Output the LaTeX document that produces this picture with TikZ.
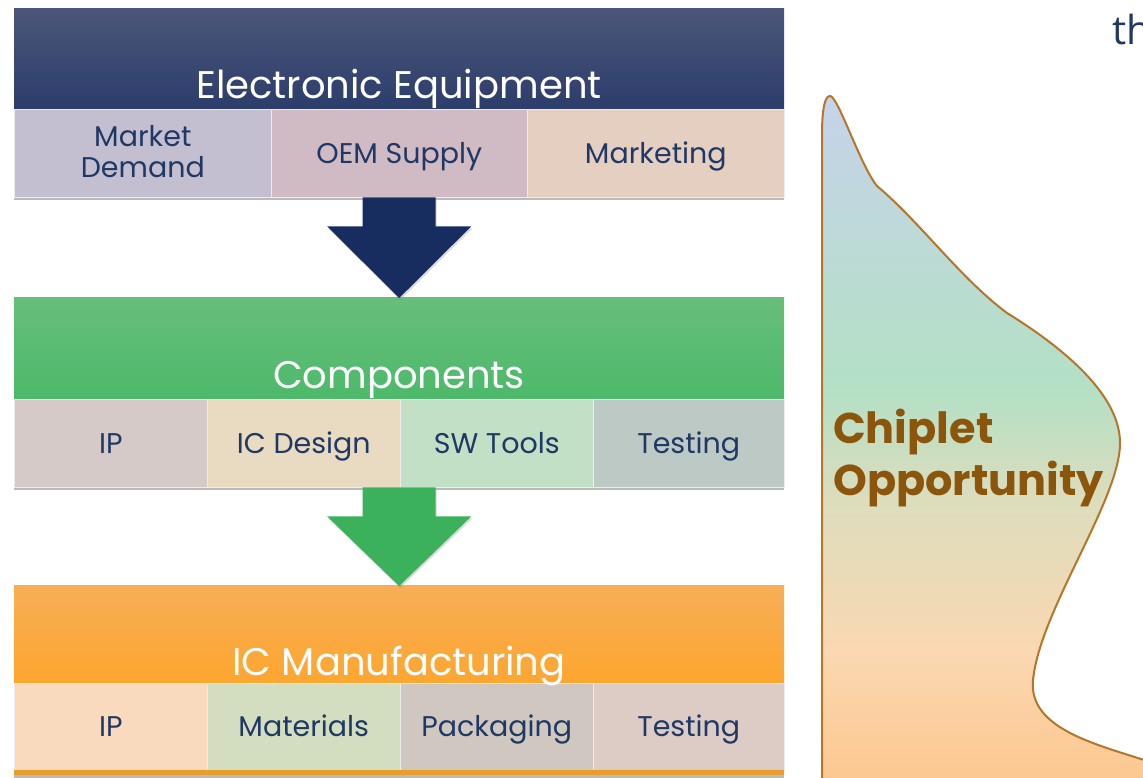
\documentclass[tikz,border=0pt]{standalone}
\usepackage{fontspec}
\setmainfont{Poppins}
\newfontfamily\thfont{Open Sans}
\usetikzlibrary{calc,shadows}
\definecolor{navytxt}{HTML}{1F3864}
\definecolor{hAtop}{HTML}{4B5679}
\definecolor{hAbot}{HTML}{2C3D6B}
\definecolor{hBtop}{HTML}{67BE7B}
\definecolor{hBbot}{HTML}{4DB96A}
\definecolor{hCtop}{HTML}{F7AE57}
\definecolor{hCbot}{HTML}{FDA62F}
\definecolor{arrA}{HTML}{172C5F}
\definecolor{arrB}{HTML}{3CB15C}
\definecolor{mA}{HTML}{C4BFD0}
\definecolor{mB}{HTML}{D0BBC4}
\definecolor{mC}{HTML}{E5CFC1}
\definecolor{cA}{HTML}{D6CAC8}
\definecolor{cB}{HTML}{E9DBC1}
\definecolor{cC}{HTML}{C1E0C6}
\definecolor{cD}{HTML}{BCC9C4}
\definecolor{iA}{HTML}{FADABE}
\definecolor{iB}{HTML}{D3DEC1}
\definecolor{iC}{HTML}{D0C8C0}
\definecolor{iD}{HTML}{DDCBC6}
\definecolor{obar}{HTML}{E99D2A}
\definecolor{chipline}{HTML}{B5752A}
\definecolor{chiptxt}{HTML}{8B560C}
\definecolor{gTop}{HTML}{C6D3EA}
\definecolor{gGreen}{HTML}{B3E0C5}
\definecolor{gTan}{HTML}{DCDDBD}
\definecolor{gPeach}{HTML}{FAD8B2}
\definecolor{gBot}{HTML}{FDC68D}
\pgfdeclareverticalshading{chipgrad}{100bp}{color(0bp)=(gBot); color(25bp)=(gBot); color(35bp)=(gPeach); color(46bp)=(gTan); color(54bp)=(gGreen); color(75bp)=(gTop); color(100bp)=(gTop)}
\tikzset{
  frame/.style={anchor=north west, inner sep=0pt, fill=white, minimum width=770pt,
    drop shadow={shadow xshift=0pt, shadow yshift=-3pt, opacity=0.45, fill=black!60}},
  hdr/.style={anchor=north west, inner sep=0pt, minimum width=770pt, draw=none},
  cell/.style={anchor=north west, inner sep=0pt, draw=white!85!gray, line width=0.6pt,
    text=navytxt, font=\fontsize{28.5}{31}\selectfont, align=center,
    text height=20pt, text depth=0pt},
  title/.style={anchor=base, inner sep=0pt, text=white, font=\fontsize{38.5}{40}\selectfont}
}
\begin{document}
\begin{tikzpicture}[x=1pt,y=-1pt]
\useasboundingbox (0,0) rectangle (1143,778);
% ---- box 1
\node[frame, minimum height=189pt] (f1) at (14,8) {};
\node[hdr, minimum height=101pt, top color=hAtop, bottom color=hAbot] (h1) at (14,8) {};
\node[cell, fill=mA, minimum width=257pt, minimum height=88pt] (m1) at (14,109) {};
\node[cell, fill=mB, minimum width=256pt, minimum height=88pt] (m2) at (271,109) {};
\node[cell, fill=mC, minimum width=257pt, minimum height=88pt] (m3) at (527,109) {};
\node[title] (t1) at (399,99) {Electronic Equipment};
\node[text=navytxt, font=\fontsize{28.5}{31}\selectfont, align=center, inner sep=0pt] (l1) at ($(m1.center)+(0,-2)$) {Market\\Demand};
\node[cell, draw=none, anchor=center] (l2) at (m2.center) {OEM Supply};
\node[cell, draw=none, anchor=center] (l3) at (m3.center) {Marketing};
% ---- box 2
\node[frame, minimum height=190pt] (f2) at (14,297) {};
\node[hdr, minimum height=102pt, top color=hBtop, bottom color=hBbot] (h2) at (14,297) {};
\node[cell, fill=cA, minimum width=193pt, minimum height=88pt] (c1) at (14,399) {};
\node[cell, fill=cB, minimum width=193pt, minimum height=88pt] (c2) at (207,399) {};
\node[cell, fill=cC, minimum width=193pt, minimum height=88pt] (c3) at (400,399) {};
\node[cell, fill=cD, minimum width=191pt, minimum height=88pt] (c4) at (593,399) {};
\node[title] (t2) at (399,388) {Components};
\node[cell, draw=none, anchor=center] (k1) at (c1.center) {IP};
\node[cell, draw=none, anchor=center] (k2) at (c2.center) {IC Design};
\node[cell, draw=none, anchor=center] (k3) at (c3.center) {SW Tools};
\node[cell, draw=none, anchor=center] (k4) at (c4.center) {Testing};
% ---- box 3
\node[frame, minimum height=190pt] (f3) at (14,585) {};
\node[hdr, minimum height=98pt, top color=hCtop, bottom color=hCbot] (h3) at (14,585) {};
\node[cell, fill=iA, minimum width=193pt, minimum height=87pt] (i1) at (14,683) {};
\node[cell, fill=iB, minimum width=193pt, minimum height=87pt] (i2) at (207,683) {};
\node[cell, fill=iC, minimum width=193pt, minimum height=87pt] (i3) at (400,683) {};
\node[cell, fill=iD, minimum width=191pt, minimum height=87pt] (i4) at (593,683) {};
\node[hdr, fill=obar, minimum height=5pt] (ob) at (14,770) {};
\node[title] (t3) at (399,675) {IC Manufacturing};
\node[cell, draw=none, anchor=center] (j1) at (i1.center) {IP};
\node[cell, draw=none, anchor=center] (j2) at (i2.center) {Materials};
\node[cell, draw=none, anchor=center] (j3) at (i3.center) {Packaging};
\node[cell, draw=none, anchor=center] (j4) at (i4.center) {Testing};
% ---- block arrows
\fill[arrA, drop shadow={shadow xshift=1pt, shadow yshift=-2pt, opacity=0.3}]
  ($(f1.south)+(-36.5,0)$) -- ($(f1.south)+(-36.5,29)$) -- ($(f1.south)+(-72,29)$)
  -- ($(f2.north)+(0,1)$) -- ($(f1.south)+(72,29)$) -- ($(f1.south)+(36.5,29)$)
  -- ($(f1.south)+(36.5,0)$) -- cycle;
\fill[arrB, drop shadow={shadow xshift=1pt, shadow yshift=-2pt, opacity=0.3}]
  ($(f2.south)+(-36.5,0)$) -- ($(f2.south)+(-36.5,29)$) -- ($(f2.south)+(-72,29)$)
  -- ($(f3.north)+(0,1)$) -- ($(f2.south)+(72,29)$) -- ($(f2.south)+(36.5,29)$)
  -- ($(f2.south)+(36.5,0)$) -- cycle;
% ---- chiplet opportunity shape
\shade[shading=chipgrad, draw=chipline, line width=2pt]
  (822,790) -- (822,135) .. controls (822,108) and (825,96) .. (830,96)
  .. controls (838,96) and (860,165) .. (877,186)
  .. controls (920,222) and (960,278) .. (1007,313)
  .. controls (1075,355) and (1120,400) .. (1120,443)
  .. controls (1120,500) and (1040,610) .. (1033,680)
  .. controls (1028,730) and (1100,745) .. (1150,762)
  -- (1150,790) -- cycle;
\node[anchor=base west, inner sep=0pt, text=chiptxt, align=left,
  font=\fontsize{43}{52}\selectfont\bfseries] (chip) at (833,495) {Chiplet\\Opportunity};
\node[anchor=base west, inner sep=0pt, text=navytxt, font=\thfont\fontsize{40}{40}\selectfont] (th) at (1112,45) {th};
\end{tikzpicture}
\end{document}
